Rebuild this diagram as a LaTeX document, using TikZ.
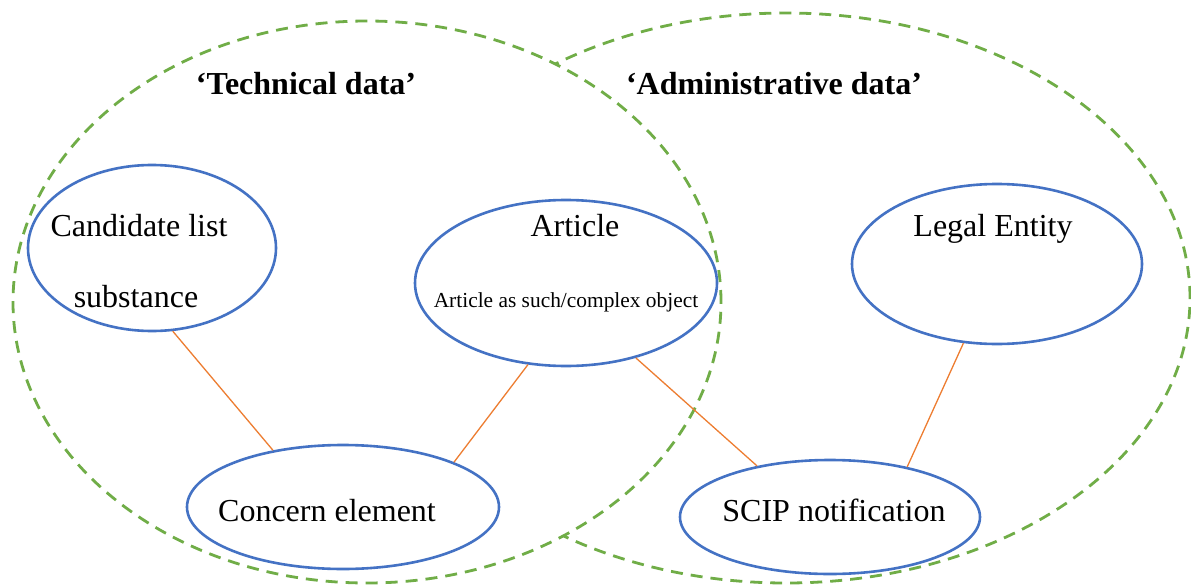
\documentclass[tikz,border=0pt]{standalone}
\usepackage{fontspec}
\setmainfont{Liberation Serif}
\usetikzlibrary{shapes.geometric}
\definecolor{zonegreen}{HTML}{70AD47}
\definecolor{entityblue}{HTML}{4472C4}
\definecolor{linkorange}{HTML}{ED7D31}

\begin{document}
\begin{tikzpicture}[x=1pt,y=-1pt,
  zone/.style={ellipse, draw=zonegreen, line width=2.8pt, dash pattern=on 12pt off 8pt, inner sep=0pt, outer sep=0pt},
  entity/.style={ellipse, draw=entityblue, line width=2.6pt, fill=white, inner sep=0pt},
  txt/.style={inner sep=0pt, anchor=base, font=\fontsize{32}{38}\selectfont},
  smalltxt/.style={inner sep=0pt, anchor=base, font=\fontsize{21.4}{26}\selectfont},
  heading/.style={inner sep=0pt, anchor=base, font=\fontsize{32}{38}\selectfont\bfseries},
  link/.style={draw=linkorange, line width=1.3pt}
]
\useasboundingbox (0,0) rectangle (1191,586);

% data zones
\node[zone, minimum width=808pt, minimum height=570pt] (admin) at (786,298) {};
\node[zone, fill=white, minimum width=708pt, minimum height=562pt] (tech) at (367,302) {};

\node[heading] (techhead) at (306,94) {‘Technical data’};
\node[heading] (adminhead) at (774,94) {‘Administrative data’};

% entities
\node[entity, minimum width=248pt, minimum height=166pt] (cand) at (152,248) {};
\node[entity, minimum width=302pt, minimum height=166pt] (article) at (566,283) {};
\node[entity, minimum width=290pt, minimum height=160pt] (legal) at (997,264) {};
\node[entity, minimum width=312pt, minimum height=124pt] (concern) at (343,507) {};
\node[entity, minimum width=300pt, minimum height=114pt] (scip) at (830,517) {};

\node[txt] (candA) at (139,236) {Candidate list};
\node[txt] (candB) at (136,307) {substance};
\node[txt] (articleA) at (575,236) {Article};
\node[smalltxt] (articleB) at (566,307) {Article as such/complex object};
\node[txt] (legalA) at (993,236) {Legal Entity};
\node[txt] (concernA) at (327,521) {Concern element};
\node[txt] (scipA) at (834,521) {SCIP notification};

% relations
\draw[link] (cand.-76) -- (concern.141);
\draw[link] (article.245) -- (concern.22);
\draw[link] (article.-47) -- (scip.145);
\draw[link] (legal.-113) -- (scip.33);
\end{tikzpicture}
\end{document}
